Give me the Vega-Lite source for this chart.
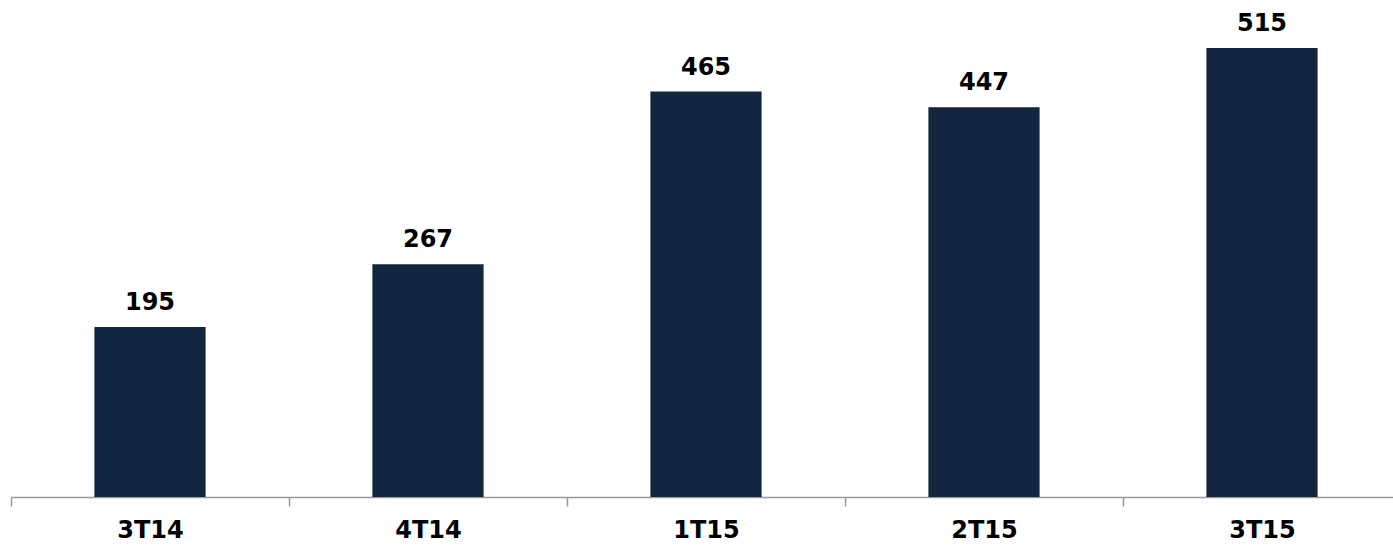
{
  "$schema": "https://vega.github.io/schema/vega-lite/v6.json",
  "autosize": {"type": "none"},
  "padding": {"left": 11, "top": 0, "right": 0, "bottom": 48},
  "width": 1390,
  "height": 497,
  "background": "white",
  "config": {"view": {"stroke": null}, "font": "DejaVu Sans"},
  "data": {"values": [
    {"period": "3T14", "value": 195},
    {"period": "4T14", "value": 267},
    {"period": "1T15", "value": 465},
    {"period": "2T15", "value": 447},
    {"period": "3T15", "value": 515}
  ]},
  "encoding": {
    "x": {"field": "period", "type": "nominal", "sort": null,
      "scale": {"paddingInner": 0, "paddingOuter": 0},
      "axis": {"title": null, "labelAngle": 0, "labelFontSize": 24, "labelFontWeight": "bold", "labelColor": "#000000", "labelFont": "DejaVu Sans", "labelPadding": 12, "tickBand": "extent", "tickSize": 9, "tickColor": "#999999", "domainColor": "#999999", "domainWidth": 1.5, "tickWidth": 1.5}},
    "y": {"field": "value", "type": "quantitative", "scale": {"domain": [0, 570], "nice": false}, "axis": null}
  },
  "layer": [
    {"mark": {"type": "bar", "color": "#13263f", "width": {"band": 0.4}}},
    {"mark": {"type": "text", "baseline": "alphabetic", "dy": -17, "fontSize": 24, "fontWeight": "bold", "color": "#000000", "font": "DejaVu Sans"},
     "encoding": {"text": {"field": "value", "type": "quantitative"}}}
  ]
}
